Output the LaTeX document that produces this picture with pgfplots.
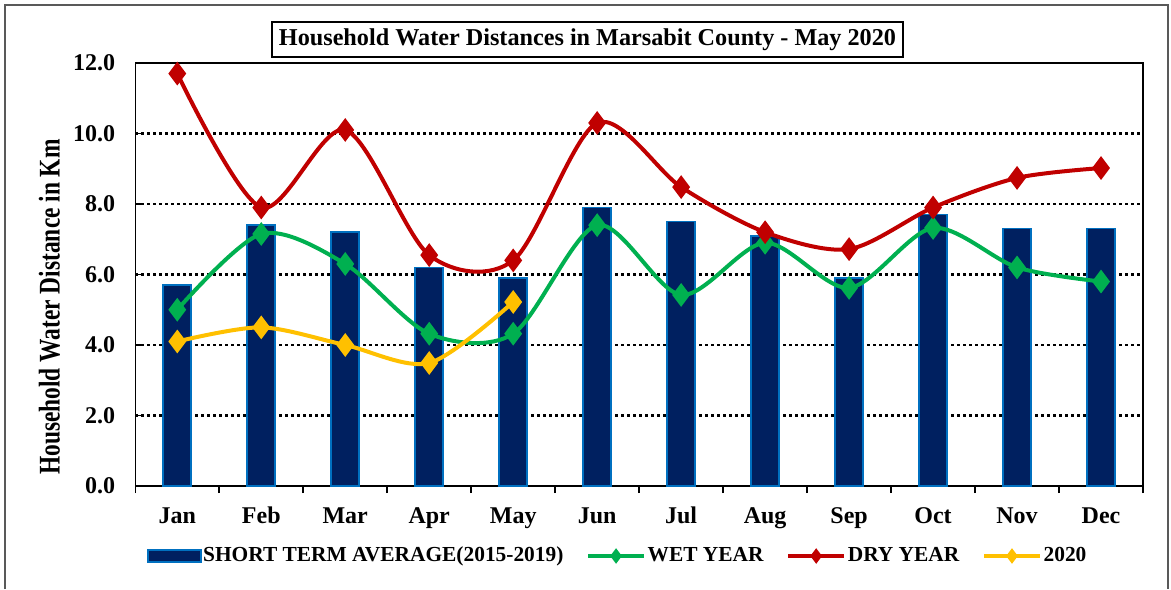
\documentclass[border=0pt]{standalone}
\usepackage{pgfplots}
\pgfplotsset{compat=1.18}
\usepackage{fontspec}
\setmainfont{Liberation Serif}
\newfontfamily\ylabfont[FakeStretch=0.78]{Liberation Serif}
\definecolor{navy}{HTML}{002060}
\definecolor{edgeblue}{HTML}{0070C0}
\definecolor{dryred}{HTML}{C00000}
\definecolor{wetgreen}{HTML}{00B050}
\definecolor{yr}{HTML}{FFC000}

\pgfplotstableread{
x y
0 5.7
1 7.4
2 7.2
3 6.2
4 5.9
5 7.9
6 7.5
7 7.1
8 5.9
9 7.7
10 7.3
11 7.3
}\avg
\pgfplotstableread{
x y
0 5.0
1 7.15
2 6.3
3 4.32
4 4.32
5 7.4
6 5.42
7 6.9
8 5.62
9 7.32
10 6.2
11 5.8
}\wet
\pgfplotstableread{
x y
0 11.7
1 7.9
2 10.1
3 6.55
4 6.4
5 10.3
6 8.48
7 7.2
8 6.72
9 7.9
10 8.74
11 9.02
}\dry
\pgfplotstableread{
x y
0 4.1
1 4.5
2 4.0
3 3.49
4 5.22
}\cur

\pgfplotsset{
 linelegend/.style={legend image code/.code={%
   \draw[mark repeat=2,mark phase=2,##1,line width=2.4pt,mark size=1.9pt] plot coordinates {(0pt,0pt)(14pt,0pt)(28pt,0pt)};}},
 barlegend/.style={legend image code/.code={%
   \draw[##1] (0pt,-3pt) rectangle (26.5pt,3pt);}},
 serline/.style={smooth, line width=2pt, mark=diamond*, mark size=4.3pt, mark options={solid}, linelegend}
}

\begin{document}
\begin{tikzpicture}
\useasboundingbox (0,0) rectangle (585.5pt,294.5pt);
\draw[black!65, line width=0.75pt] (2.5pt,0pt) -- (2.5pt,292pt) -- (584pt,292pt) -- (584pt,0pt);
\node[draw=black, line width=0.75pt, minimum width=315.5pt, minimum height=17.5pt, inner sep=0pt,
  font=\bfseries\fontsize{12.1}{14}\selectfont] at (293.75pt,274.75pt)
  {Household Water Distances in Marsabit County - May 2020};
\node[rotate=90, font=\ylabfont\bfseries\fontsize{15}{17}\selectfont, inner sep=0pt] at (24.75pt,141pt)
  {Household Water Distance in Km};
\begin{axis}[
 at={(67.65pt,51.5pt)}, anchor=south west,
 scale only axis, width=503.85pt, height=211.5pt,
 xmin=-0.5, xmax=11.5, ymin=0, ymax=12,
 xtick={-0.5,0.5,...,11.5},
 x tick label as interval,
 xticklabels={Jan,Feb,Mar,Apr,May,Jun,Jul,Aug,Sep,Oct,Nov,Dec},
 ytick={0,2,...,12},
 yticklabels={0.0,2.0,4.0,6.0,8.0,10.0,12.0},
 xtick pos=bottom, ytick pos=left,
 xtick align=outside, ytick align=inside,
 major tick length=3.5pt,
 tick style={black, line width=0.8pt},
 ymajorgrids,
 grid style={black, line width=1.2pt, dash pattern=on 1.4pt off 1.6pt},
 axis line style={black, line width=0.8pt},
 tick label style={font=\bfseries\fontsize{12}{14}\selectfont},
 xticklabel style={anchor=base, yshift=-15pt},
 yticklabel style={xshift=-6.5pt},
 legend style={at={(0.4785,-0.1655)}, anchor=center, draw=none, fill=none,
   legend columns=4, font=\bfseries\fontsize{10.7}{12}\selectfont,
   /tikz/every even column/.append style={column sep=10.5pt},
   nodes={inner sep=0.6pt}},
 clip=false,
]
\addplot[ybar, bar width=14pt, fill=navy, draw=edgeblue, line width=0.8pt, barlegend] table[x=x,y=y] {\avg};
\addlegendentry{SHORT TERM AVERAGE(2015-2019)}
\addplot[serline, color=wetgreen] table[x=x,y=y] {\wet};
\addlegendentry{WET YEAR}
\addplot[serline, color=dryred] table[x=x,y=y] {\dry};
\addlegendentry{DRY YEAR}
\addplot[serline, color=yr] table[x=x,y=y] {\cur};
\addlegendentry{2020}
\end{axis}
\end{tikzpicture}
\end{document}
